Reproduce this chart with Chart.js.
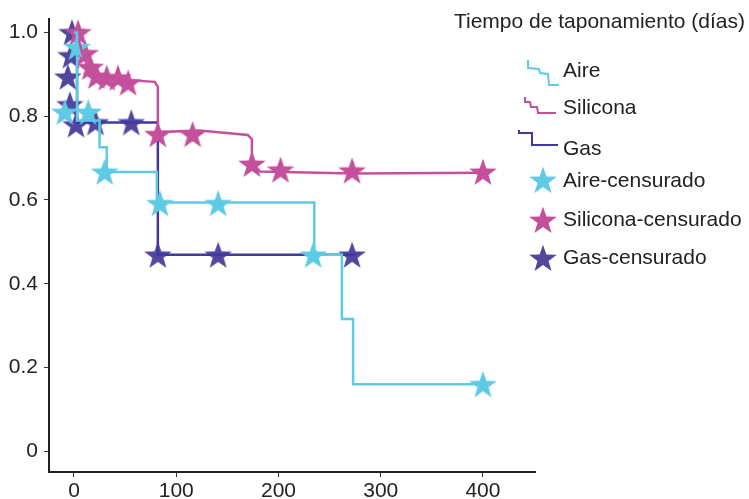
<!DOCTYPE html>
<html>
<head>
<meta charset="utf-8">
<script src="https://cdn.jsdelivr.net/npm/chart.js@4.4.0/dist/chart.umd.min.js"></script>
<style>
html, body { margin: 0; padding: 0; background: #fff; }
</style>
</head>
<body>
<canvas id="km-chart" width="749" height="499"></canvas>
<script>
const xTicks = [0, 100, 200, 300, 400];
const yTicks = [0, 0.2, 0.4, 0.6, 0.8, 1.0];
const xTitle = 'Tiempo de taponamiento (días)';
const names = ['Aire', 'Silicona', 'Gas', 'Aire-censurado', 'Silicona-censurado', 'Gas-censurado'];

// curvas de supervivencia (tiempo, proporción)
const aireT = [0, 3, 25, 32, 81, 235, 262, 273, 400];
const aireS = [1.0, 0.79, 0.726, 0.667, 0.594, 0.469, 0.316, 0.16, 0.16];
const siliconaT = [3, 8, 15, 25, 40, 79, 82, 82, 123, 170, 174, 174, 182, 273, 400];
const siliconaS = [1.0, 0.95, 0.91, 0.895, 0.888, 0.882, 0.87, 0.762, 0.766, 0.755, 0.745, 0.69, 0.668, 0.663, 0.665];
const gasT = [0, 3, 82, 275];
const gasS = [1.0, 0.785, 0.469, 0.469];

// censurados
const aireCensT = [3, -9, 14, 30, 84, 141, 234, 400];
const aireCensS = [0.965, 0.81, 0.81, 0.667, 0.592, 0.592, 0.469, 0.16];
const siliconaCensT = [4, 11, 16, 22, 32, 43, 53, 82, 116, 174, 202, 272, 400];
const siliconaCensS = [1.0, 0.95, 0.917, 0.896, 0.892, 0.892, 0.88, 0.757, 0.757, 0.686, 0.672, 0.67, 0.667];
const gasCensT = [-2, -3, -6, -4, 2, 21, 56, 82, 141, 272];
const gasCensS = [1.0, 0.945, 0.894, 0.828, 0.78, 0.785, 0.785, 0.469, 0.469, 0.469];

const cyan = 'rgb(94,202,230)';
const magenta = 'rgb(196,80,156)';
const purple = 'rgb(84,70,158)';
const gasLine = 'rgb(62,56,160)';
const font = '"Liberation Sans", Arial, sans-serif';

function pts(t, s) {
    return t.map((v, i) => ({x: v, y: s[i]}));
}

function starImage(color) {
    const c = document.createElement('canvas');
    c.width = 30;
    c.height = 30;
    const g = c.getContext('2d');
    g.fillStyle = color;
    g.beginPath();
    for (let i = 0; i < 10; i++) {
        const r = i % 2 ? 5.8 : 14.5;
        const a = -Math.PI / 2 + i * Math.PI / 5;
        g.lineTo(15 + r * Math.cos(a), 16.3 + r * Math.sin(a));
    }
    g.closePath();
    g.fill();
    return c;
}

const stars = [starImage(cyan), starImage(magenta), starImage(purple)];

function lineSet(label, data, color, stepped) {
    return {
        label: label,
        data: data,
        showLine: true,
        stepped: stepped,
        borderColor: color,
        borderWidth: 2.5,
        pointRadius: 0,
        fill: false,
        tension: 0
    };
}

function starSet(label, data, img) {
    return {
        label: label,
        data: data,
        showLine: false,
        pointStyle: img,
        pointRadius: 14,
        hoverRadius: 14
    };
}

const legendPlugin = {
    id: 'kmLegend',
    afterDraw(chart) {
        const ctx = chart.ctx;
        ctx.save();
        ctx.font = '21px ' + font;
        ctx.fillStyle = '#222';
        ctx.textBaseline = 'middle';
        ctx.textAlign = 'right';
        ctx.fillText(xTitle, 745, 22);
        ctx.textAlign = 'left';

        ctx.lineWidth = 2;
        ctx.strokeStyle = cyan;
        ctx.beginPath();
        ctx.moveTo(528, 60); ctx.lineTo(528, 68); ctx.lineTo(539, 69); ctx.lineTo(540, 73);
        ctx.lineTo(548, 74); ctx.lineTo(549, 85); ctx.lineTo(559, 85);
        ctx.stroke();

        ctx.strokeStyle = magenta;
        ctx.beginPath();
        ctx.moveTo(525, 97); ctx.lineTo(525, 102); ctx.lineTo(530, 102); ctx.lineTo(531, 107);
        ctx.lineTo(537, 107); ctx.lineTo(538, 113); ctx.lineTo(556, 113);
        ctx.stroke();

        ctx.strokeStyle = gasLine;
        ctx.beginPath();
        ctx.moveTo(519, 130); ctx.lineTo(519, 133); ctx.lineTo(532, 133);
        ctx.lineTo(532, 145); ctx.lineTo(558, 145);
        ctx.stroke();

        ctx.drawImage(stars[0], 543 - 15, 180 - 15);
        ctx.drawImage(stars[1], 543 - 15, 220 - 15);
        ctx.drawImage(stars[2], 543 - 15, 258 - 15);

        const ys = [71, 108, 149, 181, 220, 258];
        names.forEach((n, i) => ctx.fillText(n, 563, ys[i]));
        ctx.restore();
    }
};

new Chart(document.getElementById('km-chart'), {
    type: 'scatter',
    data: {
        datasets: [
            lineSet(names[0], pts(aireT, aireS), cyan, true),
            lineSet(names[1], pts(siliconaT, siliconaS), magenta, false),
            starSet(names[3], pts(aireCensT, aireCensS), stars[0]),
            starSet(names[4], pts(siliconaCensT, siliconaCensS), stars[1]),
            lineSet(names[2], pts(gasT, gasS), gasLine, true),
            starSet(names[5], pts(gasCensT, gasCensS), stars[2])
        ]
    },
    options: {
        responsive: false,
        animation: false,
        layout: {
            padding: {left: 0, top: 13, right: 214, bottom: 0}
        },
        plugins: {
            legend: {display: false},
            tooltip: {enabled: false}
        },
        scales: {
            x: {
                type: 'linear',
                min: -24.45,
                max: 450.9,
                afterBuildTicks: (s) => { s.ticks = xTicks.map(v => ({value: v})); },
                afterFit: (s) => { s.height = 27; },
                grid: {drawOnChartArea: false, tickLength: 5, color: '#333'},
                border: {color: '#222', width: 2},
                ticks: {color: '#222', padding: 2, font: {family: font, size: 21}}
            },
            y: {
                min: -0.0495,
                max: 1.033,
                afterBuildTicks: (s) => { s.ticks = yTicks.map(v => ({value: v})); },
                afterFit: (s) => { s.width = 49; },
                grid: {drawOnChartArea: false, tickLength: 5, color: '#333'},
                border: {color: '#222', width: 2},
                ticks: {
                    color: '#222',
                    padding: 6,
                    font: {family: font, size: 21},
                    callback: (v) => v === 0 ? '0' : v.toFixed(1)
                }
            }
        }
    },
    plugins: [legendPlugin]
});
</script>
</body>
</html>
